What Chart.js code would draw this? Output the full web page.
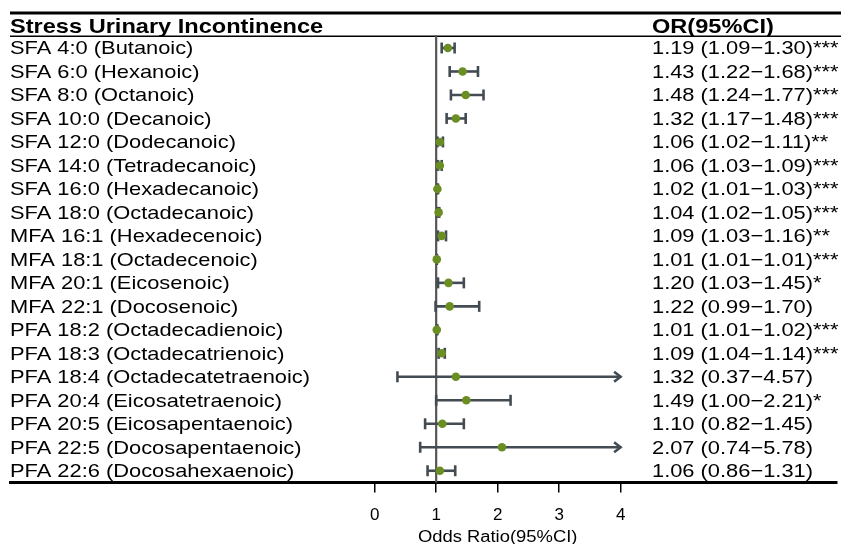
<!DOCTYPE html>
<html>
<head>
<meta charset="utf-8">
<script src="https://cdn.jsdelivr.net/npm/chart.js@4"></script>
<style>
  html, body { margin: 0; padding: 0; background: #ffffff; }
  canvas { display: block; }
</style>
</head>
<body>
<canvas id="c" width="841" height="544"></canvas>
<script>
const title = "Stress Urinary Incontinence";
const orHeader = "OR(95%CI)";
const axisTitle = "Odds Ratio(95%CI)";
const categories = [
  "SFA 4:0 (Butanoic)", "SFA 6:0 (Hexanoic)", "SFA 8:0 (Octanoic)", "SFA 10:0 (Decanoic)",
  "SFA 12:0 (Dodecanoic)", "SFA 14:0 (Tetradecanoic)", "SFA 16:0 (Hexadecanoic)", "SFA 18:0 (Octadecanoic)",
  "MFA 16:1 (Hexadecenoic)", "MFA 18:1 (Octadecenoic)", "MFA 20:1 (Eicosenoic)", "MFA 22:1 (Docosenoic)",
  "PFA 18:2 (Octadecadienoic)", "PFA 18:3 (Octadecatrienoic)", "PFA 18:4 (Octadecatetraenoic)",
  "PFA 20:4 (Eicosatetraenoic)", "PFA 20:5 (Eicosapentaenoic)", "PFA 22:5 (Docosapentaenoic)",
  "PFA 22:6 (Docosahexaenoic)"
];
const oddsRatio = [1.19, 1.43, 1.48, 1.32, 1.06, 1.06, 1.02, 1.04, 1.09, 1.01, 1.20, 1.22, 1.01, 1.09, 1.32, 1.49, 1.10, 2.07, 1.06];
const ciLower   = [1.09, 1.22, 1.24, 1.17, 1.02, 1.03, 1.01, 1.02, 1.03, 1.01, 1.03, 0.99, 1.01, 1.04, 0.37, 1.00, 0.82, 0.74, 0.86];
const ciUpper   = [1.30, 1.68, 1.77, 1.48, 1.11, 1.09, 1.03, 1.05, 1.16, 1.01, 1.45, 1.70, 1.02, 1.14, 4.57, 2.21, 1.45, 5.78, 1.31];
const stars     = ["***", "***", "***", "***", "**", "***", "***", "***", "**", "***", "*", "", "***", "***", "", "*", "", "", ""];
const tickValues = [0, 1, 2, 3, 4];
const refValue = 1;
const axisCap = 4;

const FONT = '"Liberation Sans", Arial, Helvetica, sans-serif';
const SX = 1.15;

function stretchedText(ctx, s, x, y, font, align) {
  ctx.save();
  ctx.font = font;
  ctx.fillStyle = '#000';
  ctx.textBaseline = 'alphabetic';
  ctx.textAlign = align || 'left';
  ctx.translate(x, y);
  ctx.scale(SX, 1);
  ctx.fillText(s, 0, 0);
  ctx.restore();
}

const forestPlugin = {
  id: 'forest',
  beforeDatasetsDraw(chart) {
    const ctx = chart.ctx;
    const xs = chart.scales.x, ys = chart.scales.y;
    const area = chart.chartArea;
    ctx.save();
    // top rule
    ctx.strokeStyle = '#000';
    ctx.lineWidth = 3;
    ctx.beginPath(); ctx.moveTo(area.left, area.top); ctx.lineTo(chart.width, area.top); ctx.stroke();
    // header rule
    const yh = ys.getPixelForValue(0.5);
    ctx.lineWidth = 1.3;
    ctx.beginPath(); ctx.moveTo(area.left, yh); ctx.lineTo(chart.width, yh); ctx.stroke();
    // reference line
    const xr = xs.getPixelForValue(refValue);
    ctx.strokeStyle = '#555555';
    ctx.lineWidth = 2.2;
    ctx.beginPath(); ctx.moveTo(xr, yh - 1); ctx.lineTo(xr, area.bottom); ctx.stroke();
    // error bars
    ctx.strokeStyle = '#434b53';
    ctx.lineWidth = 2.6;
    ctx.lineCap = 'butt';
    for (let i = 0; i < categories.length; i++) {
      const y = ys.getPixelForValue(i + 1);
      const x1 = xs.getPixelForValue(ciLower[i]);
      const clipped = ciUpper[i] > axisCap;
      const x2 = xs.getPixelForValue(clipped ? axisCap : ciUpper[i]);
      ctx.beginPath(); ctx.moveTo(x1, y); ctx.lineTo(x2, y); ctx.stroke();
      ctx.beginPath(); ctx.moveTo(x1, y - 5.5); ctx.lineTo(x1, y + 5.5); ctx.stroke();
      if (clipped) {
        ctx.beginPath();
        ctx.moveTo(x2 - 6.5, y - 5); ctx.lineTo(x2, y); ctx.lineTo(x2 - 6.5, y + 5);
        ctx.stroke();
      } else {
        ctx.beginPath(); ctx.moveTo(x2, y - 5.5); ctx.lineTo(x2, y + 5.5); ctx.stroke();
      }
    }
    ctx.restore();
    // texts
    const headerY = ys.getPixelForValue(0) + 8.5;
    stretchedText(ctx, title, area.left, headerY, 'bold 20.5px ' + FONT);
    stretchedText(ctx, orHeader, 652, headerY, 'bold 20.5px ' + FONT);
    for (let i = 0; i < categories.length; i++) {
      const y = ys.getPixelForValue(i + 1) + 6.5;
      stretchedText(ctx, categories[i], area.left, y, '19px ' + FONT);
      const t = oddsRatio[i].toFixed(2) + ' (' + ciLower[i].toFixed(2) + '\u2212' + ciUpper[i].toFixed(2) + ')' + stars[i];
      stretchedText(ctx, t, 652, y, '19px ' + FONT);
    }
    stretchedText(ctx, axisTitle, xs.getPixelForValue(2), 542, '16px ' + FONT, 'center');
  }
};

new Chart(document.getElementById('c'), {
  type: 'scatter',
  data: {
    datasets: [{
      label: 'OR',
      data: oddsRatio.map((v, i) => ({ x: v, y: i + 1 })),
      backgroundColor: '#6b8e23',
      borderWidth: 0,
      pointRadius: 4.3,
      pointHoverRadius: 4.3
    }]
  },
  options: {
    responsive: false,
    animation: false,
    devicePixelRatio: 1,
    layout: { padding: { left: 10, right: 2, top: 13, bottom: 0 } },
    plugins: { legend: { display: false }, tooltip: { enabled: false } },
    scales: {
      x: {
        type: 'linear',
        min: -5.932,
        max: 7.515,
        afterBuildTicks(scale) { scale.ticks = tickValues.map(v => ({ value: v })); },
        afterFit(scale) { scale.height = 61.5; },
        grid: { drawOnChartArea: false, drawTicks: true, tickLength: 10, color: '#000', lineWidth: 1.5 },
        border: { display: true, color: '#000', width: 3 },
        ticks: { color: '#000', font: { family: FONT, size: 17 }, padding: 13, autoSkip: false, maxRotation: 0 }
      },
      y: {
        type: 'linear',
        display: false,
        reverse: true,
        min: -0.49,
        max: 19.5
      }
    }
  },
  plugins: [forestPlugin]
});
</script>
</body>
</html>
